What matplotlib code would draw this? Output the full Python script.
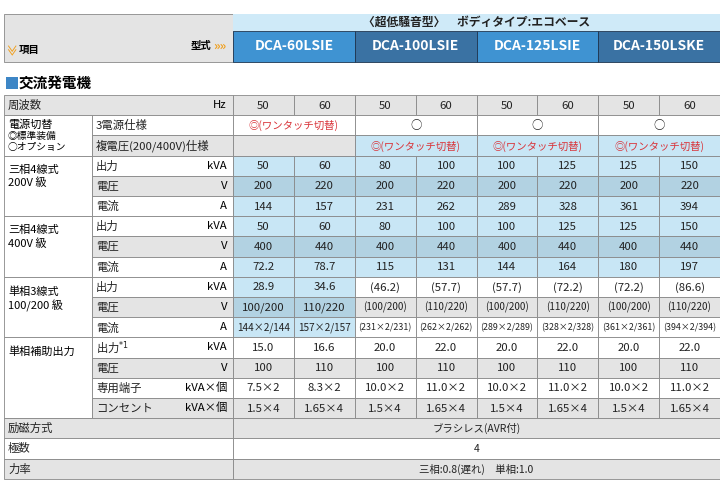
import matplotlib.pyplot as plt
from matplotlib.patches import Rectangle

plt.rcParams['font.family'] = ['Noto Sans CJK JP', 'DejaVu Sans']

models = ["DCA-60LSIE", "DCA-100LSIE", "DCA-125LSIE", "DCA-150LSKE"]
model_colors = ["#3f93d2", "#3a72a3", "#3f93d2", "#3a72a3"]
hz = ["50", "60"] * 4

# (item, unit, 8 values)
r200 = [("出力", "kVA", ["50", "60", "80", "100", "100", "125", "125", "150"]),
        ("電圧", "V", ["200", "220", "200", "220", "200", "220", "200", "220"]),
        ("電流", "A", ["144", "157", "231", "262", "289", "328", "361", "394"])]
r400 = [("出力", "kVA", ["50", "60", "80", "100", "100", "125", "125", "150"]),
        ("電圧", "V", ["400", "440", "400", "440", "400", "440", "400", "440"]),
        ("電流", "A", ["72.2", "78.7", "115", "131", "144", "164", "180", "197"])]
r1p = [("出力", "kVA", ["28.9", "34.6", "(46.2)", "(57.7)", "(57.7)", "(72.2)", "(72.2)", "(86.6)"]),
       ("電圧", "V", ["100/200", "110/220", "(100/200)", "(110/220)", "(100/200)", "(110/220)", "(100/200)", "(110/220)"]),
       ("電流", "A", ["144×2/144", "157×2/157", "(231×2/231)", "(262×2/262)", "(289×2/289)", "(328×2/328)", "(361×2/361)", "(394×2/394)"])]
raux = [("出力$^{*1}$", "kVA", ["15.0", "16.6", "20.0", "22.0", "20.0", "22.0", "20.0", "22.0"]),
        ("電圧", "V", ["100", "110", "100", "110", "100", "110", "100", "110"]),
        ("専用端子", "kVA×個", ["7.5×2", "8.3×2", "10.0×2", "11.0×2", "10.0×2", "11.0×2", "10.0×2", "11.0×2"]),
        ("コンセント", "kVA×個", ["1.5×4", "1.65×4", "1.5×4", "1.65×4", "1.5×4", "1.65×4", "1.5×4", "1.65×4"])]
bottom = [("励磁方式", "ブラシレス(AVR付)"), ("極数", "4"), ("力率", "三相:0.8(遅れ)　単相:1.0")]

GRAY = "#e4e4e4"
LB = "#c8e6f5"
DB = "#b2d2e2"
RED = "#d9343a"

fig = plt.figure(figsize=(7.2, 4.82), dpi=100)
ax = fig.add_axes([0, 0, 1, 1])
ax.set_xlim(0, 720)
ax.set_ylim(482, 0)
ax.axis("off")

X0, X1, X2, XE = 4, 92, 233, 720
cw = (XE - X2) / 8
fs = 8.2


def cell(x, y, w, h, fc, txt="", color="#222222", ha="center", weight="normal", pad=4, size=fs):
    ax.add_patch(Rectangle((x, y), w, h, fc=fc, ec="#888888", lw=0.6))
    if txt:
        tx = x + w / 2 if ha == "center" else (x + pad if ha == "left" else x + w - pad)
        ax.text(tx, y + h / 2 + 0.5, txt, ha=ha, va="center", fontsize=size, color=color, weight=weight)


# header
ax.add_patch(Rectangle((X0, 14), X2 - X0, 48, fc=GRAY, ec="#888888", lw=0.6))
ax.add_patch(Rectangle((X2, 14), XE - X2, 17, fc="#cfeaf8", ec="none"))
ax.text((X2 + XE) / 2, 22.5, "〈超低騒音型〉　ボディタイプ:エコベース", ha="center", va="center",
        fontsize=8.5, weight="bold", color="#222222")
for i, m in enumerate(models):
    ax.add_patch(Rectangle((X2 + 2 * i * cw, 31), 2 * cw, 31, fc=model_colors[i], ec="#1e3550", lw=0.6))
    ax.text(X2 + (2 * i + 1) * cw, 46.5, m, ha="center", va="center", fontsize=10, weight="bold", color="white")
ax.text(10, 50, "≫", rotation=-90, ha="center", va="center", fontsize=8, color="#f0a020", weight="bold")
ax.text(19, 50, "項目", ha="left", va="center", fontsize=7.5, weight="bold")
ax.text(211, 46, "型式", ha="right", va="center", fontsize=7.5, weight="bold")
ax.text(213, 46, "»»", ha="left", va="center", fontsize=9, color="#f0a020", weight="bold")

ax.add_patch(Rectangle((6, 77), 12, 12, fc="#3d86c6", ec="none"))
ax.text(19, 83, "交流発電機", ha="left", va="center", fontsize=10.5, weight="bold")

rh = 20.2
y = 95
cell(X0, y, X2 - X0, rh, GRAY, "周波数", ha="left")
ax.text(X2 - 6, y + rh / 2, "Hz", ha="right", va="center", fontsize=fs)
for j, h in enumerate(hz):
    cell(X2 + j * cw, y, cw, rh, GRAY, h)
y += rh

# power switch rows
cell(X0, y, X1 - X0, 2 * rh, "white")
ax.text(X0 + 4, y + 9, "電源切替", fontsize=8, va="center")
ax.text(X0 + 4, y + 21, "◎標準装備", fontsize=7, va="center")
ax.text(X0 + 4, y + 32, "○オプション", fontsize=7, va="center")
cell(X1, y, X2 - X1, rh, "white", "3電源仕様", ha="left")
cell(X2, y, 2 * cw, rh, "white", "◎(ワンタッチ切替)", color=RED, size=7.5)
for i in range(1, 4):
    cell(X2 + 2 * i * cw, y, 2 * cw, rh, "white", "○")
y += rh
cell(X1, y, X2 - X1, rh, GRAY, "複電圧(200/400V)仕様", ha="left")
cell(X2, y, 2 * cw, rh, GRAY)
for i in range(1, 4):
    cell(X2 + 2 * i * cw, y, 2 * cw, rh, LB, "◎(ワンタッチ切替)", color=RED, size=7.5)
y += rh


def value_size(v):
    if len(v) >= 11:
        return 6.4
    if len(v) >= 9:
        return 7.2
    return fs


def block(title, rows, blue_cols):
    global y
    cell(X0, y, X1 - X0, len(rows) * rh, "white")
    ax.text(X0 + 4, y + 9, title, fontsize=8, va="top", linespacing=1.3)
    for k, (lab, unit, vals) in enumerate(rows):
        g = k % 2 == 1
        cell(X1, y, X2 - X1, rh, GRAY if g else "white", lab, ha="left")
        ax.text(X2 - 6, y + rh / 2, unit, ha="right", va="center", fontsize=fs)
        for j, v in enumerate(vals):
            if j in blue_cols:
                fc = DB if g else LB
            else:
                fc = GRAY if g else "white"
            cell(X2 + j * cw, y, cw, rh, fc, v.replace("×", "x") if False else v, size=value_size(v))
        y += rh


block("三相4線式\n200V 級", r200, range(8))
block("三相4線式\n400V 級", r400, range(8))
block("単相3線式\n100/200 級", r1p, [0, 1])
block("単相補助出力", raux, [])

for k, (lab, val) in enumerate(bottom):
    fc = GRAY if k % 2 == 0 else "white"
    cell(X0, y, X2 - X0, rh, fc, lab, ha="left")
    cell(X2, y, XE - X2, rh, fc, val, size=7.5)
    y += rh

fig.savefig("out.png", dpi=100)
